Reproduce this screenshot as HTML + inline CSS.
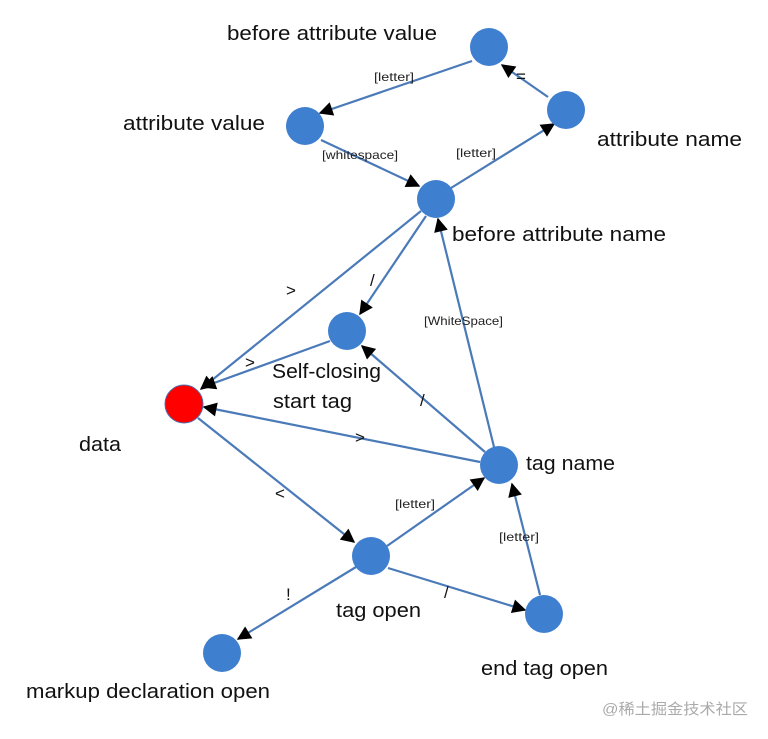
<!DOCTYPE html>
<html><head><meta charset="utf-8"><style>
html,body{margin:0;padding:0;background:#fff;}
svg{display:block;}
text{font-family:"Liberation Sans","Noto Sans CJK SC",sans-serif;}
.n{font-size:20px;fill:#111;}
.s{font-size:12px;fill:#222;}
.m{font-size:17px;fill:#111;}
line{stroke:#4a7ab8;stroke-width:2.2;}
</style></head><body>
<svg width="768" height="739" viewBox="0 0 768 739" xmlns="http://www.w3.org/2000/svg">
<defs>
<marker id="b" viewBox="0 0 10 10" refX="9" refY="5" markerWidth="18" markerHeight="14" orient="auto" markerUnits="userSpaceOnUse"><path d="M0,0 L10,5 L0,10 z" fill="#000"/></marker></defs>
<g marker-end="url(#b)">
<line x1="472" y1="61" x2="320" y2="113"/>
<line x1="548" y1="97" x2="502" y2="65"/>
<line x1="321" y1="140" x2="419" y2="186"/>
<line x1="451" y1="188" x2="554" y2="124"/>
<line x1="421" y1="211" x2="201" y2="389"/>
<line x1="426" y1="216" x2="360" y2="314"/>
<line x1="330" y1="341" x2="203" y2="387"/>
<line x1="494" y1="447" x2="438" y2="219"/>
<line x1="485" y1="452" x2="362" y2="346"/>
<line x1="480" y1="462" x2="204" y2="407"/>
<line x1="198" y1="418" x2="354" y2="542"/>
<line x1="387" y1="546" x2="484" y2="478"/>
<line x1="540" y1="595" x2="512" y2="484"/>
<line x1="388" y1="568" x2="525" y2="610"/>
<line x1="356" y1="567" x2="238" y2="639"/>
</g>
<g fill="#3f7fcf">
<circle cx="489" cy="47" r="19"/>
<circle cx="566" cy="110" r="19"/>
<circle cx="305" cy="126" r="19"/>
<circle cx="436" cy="199" r="19"/>
<circle cx="347" cy="331" r="19"/>
<circle cx="499" cy="465" r="19"/>
<circle cx="371" cy="556" r="19"/>
<circle cx="544" cy="614" r="19"/>
<circle cx="222" cy="653" r="19"/>
</g>
<circle cx="184" cy="404" r="19" fill="#ff0000" stroke="#4a6fae" stroke-width="1"/>
<g lengthAdjust="spacingAndGlyphs">
<text class="n" x="227" y="40" textLength="210" lengthAdjust="spacingAndGlyphs">before attribute value</text>
<text class="n" x="123" y="130" textLength="142" lengthAdjust="spacingAndGlyphs">attribute value</text>
<text class="n" x="597" y="146" textLength="145" lengthAdjust="spacingAndGlyphs">attribute name</text>
<text class="n" x="452" y="241" textLength="214" lengthAdjust="spacingAndGlyphs">before attribute name</text>
<text class="n" x="272" y="378" textLength="109" lengthAdjust="spacingAndGlyphs">Self-closing</text>
<text class="n" x="273" y="408" textLength="79" lengthAdjust="spacingAndGlyphs">start tag</text>
<text class="n" x="79" y="451" textLength="42" lengthAdjust="spacingAndGlyphs">data</text>
<text class="n" x="526" y="470" textLength="89" lengthAdjust="spacingAndGlyphs">tag name</text>
<text class="n" x="336" y="617" textLength="85" lengthAdjust="spacingAndGlyphs">tag open</text>
<text class="n" x="481" y="675" textLength="127" lengthAdjust="spacingAndGlyphs">end tag open</text>
<text class="n" x="26" y="698" textLength="244" lengthAdjust="spacingAndGlyphs">markup declaration open</text>
</g>
<text class="s" x="374" y="81" textLength="40" lengthAdjust="spacingAndGlyphs">[letter]</text>
<text class="m" x="516" y="82">=</text>
<text class="s" x="322" y="159" textLength="76" lengthAdjust="spacingAndGlyphs">[whitespace]</text>
<text class="s" x="456" y="157" textLength="40" lengthAdjust="spacingAndGlyphs">[letter]</text>
<text class="m" x="286" y="296">&gt;</text>
<text class="m" x="370" y="286">/</text>
<text class="s" x="424" y="325" textLength="79" lengthAdjust="spacingAndGlyphs">[WhiteSpace]</text>
<text class="m" x="245" y="368">&gt;</text>
<text class="m" x="420" y="406">/</text>
<text class="m" x="355" y="443">&gt;</text>
<text class="m" x="275" y="499">&lt;</text>
<text class="s" x="395" y="508" textLength="40" lengthAdjust="spacingAndGlyphs">[letter]</text>
<text class="s" x="499" y="541" textLength="40" lengthAdjust="spacingAndGlyphs">[letter]</text>
<text class="m" x="444" y="598">/</text>
<text class="m" x="286" y="600">!</text>
<text x="602" y="714" style="font-size:15px;fill:#aaa;" textLength="146" lengthAdjust="spacingAndGlyphs">@稀土掘金技术社区</text>
</svg>
</body></html>
